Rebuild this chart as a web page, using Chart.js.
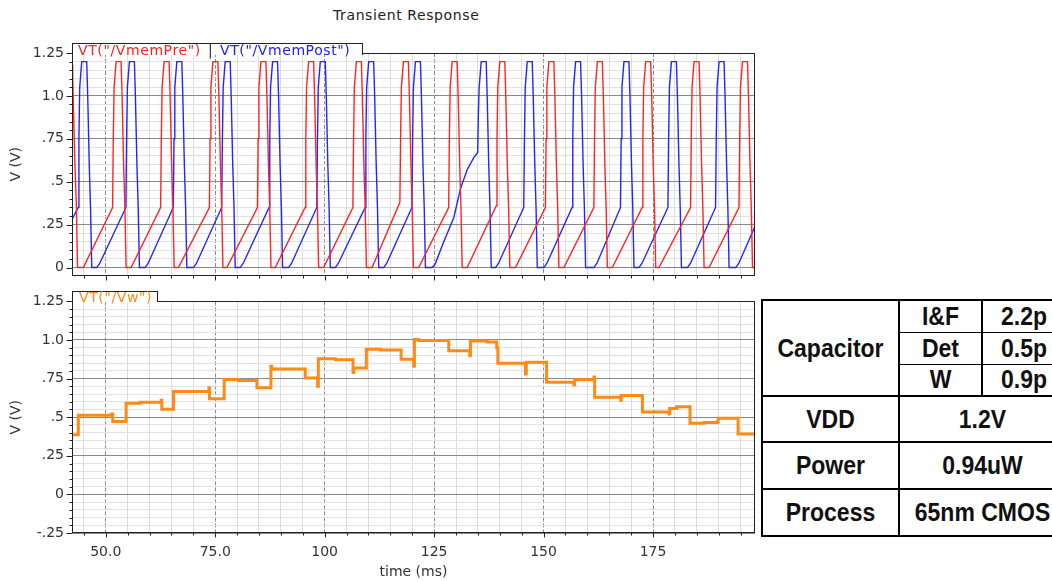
<!DOCTYPE html>
<html><head><meta charset="utf-8">
<script src="https://cdn.jsdelivr.net/npm/chart.js@4.4.1/dist/chart.umd.min.js"></script>
<style>
html,body{margin:0;padding:0;background:#fff;}
body{width:1052px;height:581px;position:relative;overflow:hidden;font-family:"DejaVu Sans",sans-serif;}
canvas{position:absolute;left:0;z-index:0;}
#c1{top:30px;} #c2{top:285px;}
.lbl{position:absolute;white-space:nowrap;font-size:14px;line-height:14px;letter-spacing:0.6px;z-index:3;}
.tab{position:absolute;background:#fff;border:1px solid #222;border-bottom:none;box-sizing:border-box;z-index:2;}
#tab1{left:72px;top:43px;width:291px;height:12px;}
#tab2{left:72px;top:291px;width:86px;height:11px;}
#tbl{position:absolute;left:761px;top:299px;width:304px;table-layout:fixed;border-collapse:collapse;font-family:"Liberation Sans",Arial,sans-serif;font-weight:bold;font-size:23px;color:#111;z-index:3;}
#tbl td{border:2px solid #000;text-align:center;vertical-align:middle;padding:0;white-space:nowrap;overflow:visible;}
#tbl td span{display:inline-block;transform:scaleY(1.1);}
</style>
</head><body>
<div class="lbl" id="title" style="left:333px;top:8px;color:#222;">Transient Response</div>
<div class="tab" id="tab1"></div>
<div class="lbl" style="left:78px;top:43px;color:#ff2020;">VT("/VmemPre")</div>
<div class="lbl" style="left:208px;top:43px;color:#333;">|</div>
<div class="lbl" style="left:220px;top:43px;color:#2020ff;">VT("/VmemPost")</div>
<div class="tab" id="tab2"></div>
<div class="lbl" style="left:79px;top:290px;color:#ff8a14;">VT("/Vw")</div>
<canvas id="c1" width="760" height="262"></canvas>
<canvas id="c2" width="760" height="296"></canvas>
<table id="tbl"><colgroup><col style="width:137px"><col style="width:83px"><col style="width:84px"></colgroup><tbody id="tbody"></tbody></table>
<script>
// ---------------- data (time in ms, voltage in V) ----------------
const xMin = 42.29, xMax = 198.29;

const vmemPre = [
[42.29,1.18],[42.45,1.12],[42.6,0.95],[42.9,0.65],[43.3,0.35],[43.55,0],
[44.88,0],[51.56,0.35],[51.72,0.75],[51.90,1.05],[52.36,1.2],[53.50,1.2],[53.73,1.0],[54.08,0.6],[54.37,0.35],[54.65,0],
[55.79,0],[62.53,0.35],[62.69,0.75],[62.87,1.05],[63.33,1.2],[64.47,1.2],[64.70,1.0],[65.05,0.6],[65.34,0.35],[65.62,0],
[66.60,0],[73.67,0.35],[73.83,0.75],[74.01,1.05],[74.47,1.2],[75.61,1.2],[75.84,1.0],[76.19,0.6],[76.48,0.35],[76.76,0],
[77.67,0],[84.64,0.35],[84.80,0.75],[84.98,1.05],[85.44,1.2],[86.58,1.2],[86.81,1.0],[87.16,0.6],[87.45,0.35],[87.73,0],
[88.71,0],[95.53,0.35],[95.69,0.75],[95.87,1.05],[96.33,1.2],[97.47,1.2],[97.70,1.0],[98.05,0.6],[98.34,0.35],[98.62,0],
[99.76,0],[106.44,0.35],[106.60,0.75],[106.78,1.05],[107.24,1.2],[108.38,1.2],[108.61,1.0],[108.96,0.6],[109.25,0.35],[109.53,0],
[110.83,0],[117.18,0.38],[117.34,0.75],[117.52,1.05],[117.98,1.2],[119.12,1.2],[119.35,1.0],[119.70,0.6],[119.99,0.35],[120.27,0],
[121.48,0],[128.32,0.35],[128.48,0.75],[128.66,1.05],[129.12,1.2],[130.26,1.2],[130.49,1.0],[130.84,0.6],[131.13,0.35],[131.41,0],
[132.55,0],[139.20,0.36],[139.36,0.75],[139.54,1.05],[140.00,1.2],[141.14,1.2],[141.37,1.0],[141.72,0.6],[142.01,0.35],[142.29,0],
[143.59,0],[150.41,0.35],[150.57,0.75],[150.75,1.05],[151.21,1.2],[152.35,1.2],[152.58,1.0],[152.93,0.6],[153.22,0.35],[153.50,0],
[154.64,0],[161.48,0.35],[161.64,0.75],[161.82,1.05],[162.28,1.2],[163.42,1.2],[163.65,1.0],[164.00,0.6],[164.29,0.35],[164.57,0],
[165.71,0],[172.52,0.35],[172.68,0.75],[172.86,1.05],[173.32,1.2],[174.46,1.2],[174.69,1.0],[175.04,0.6],[175.33,0.35],[175.61,0],
[176.36,0],[183.57,0.35],[183.73,0.75],[183.91,1.05],[184.37,1.2],[185.51,1.2],[185.74,1.0],[186.09,0.6],[186.38,0.35],[186.66,0],
[187.80,0],[194.63,0.35],[194.79,0.75],[194.97,1.05],[195.43,1.2],[196.57,1.2],[196.80,1.0],[197.15,0.6],[197.44,0.35],[197.72,0],
[198.29,0]
];

const vmemPost = [
[42.29,0.28],
[43.71,0.35],[43.87,0.75],[44.05,1.05],[44.51,1.2],[45.65,1.2],[45.88,1.0],[46.23,0.6],[46.52,0.35],[46.80,0],
[47.94,0],[48.64,0.025],
[54.60,0.35],[54.76,0.75],[54.94,1.05],[55.40,1.2],[56.54,1.2],[56.77,1.0],[57.12,0.6],[57.41,0.35],[57.69,0],
[58.99,0],[59.69,0.025],
[65.43,0.35],[65.59,0.75],[65.77,1.05],[66.23,1.2],[67.37,1.2],[67.60,1.0],[67.95,0.6],[68.24,0.35],[68.52,0],
[70.03,0],[70.73,0.025],
[76.48,0.35],[76.64,0.75],[76.82,1.05],[77.28,1.2],[78.42,1.2],[78.65,1.0],[79.00,0.6],[79.29,0.35],[79.57,0],
[80.71,0],[81.41,0.025],
[87.30,0.35],[87.46,0.75],[87.64,1.05],[88.10,1.2],[89.24,1.2],[89.47,1.0],[89.82,0.6],[90.11,0.35],[90.39,0],
[91.75,0],[92.45,0.025],
[98.20,0.35],[98.36,0.75],[98.54,1.05],[99.00,1.2],[100.14,1.2],[100.37,1.0],[100.72,0.6],[101.01,0.35],[101.29,0],
[102.43,0],[103.13,0.025],
[109.25,0.35],[109.41,0.75],[109.59,1.05],[110.05,1.2],[111.19,1.2],[111.42,1.0],[111.77,0.6],[112.06,0.35],[112.34,0],
[113.48,0],[114.18,0.025],
[119.93,0.35],[120.09,0.75],[120.27,1.05],[120.73,1.2],[121.87,1.2],[122.10,1.0],[122.45,0.6],[122.74,0.35],[123.02,0],
[124.55,0],[125.23,0.02],[127.20,0.15],[129.49,0.29],[131.02,0.46],[132.55,0.57],[134.06,0.64],
[134.95,0.67],[135.11,0.9],[135.29,1.05],[135.75,1.2],[136.89,1.2],[137.12,1.0],[137.47,0.6],[137.76,0.35],[138.04,0],
[139.02,0],[139.72,0.025],
[145.47,0.35],[145.63,0.75],[145.81,1.05],[146.27,1.2],[147.41,1.2],[147.64,1.0],[147.99,0.6],[148.28,0.35],[148.56,0],
[150.07,0],[150.77,0.025],
[156.51,0.35],[156.67,0.75],[156.85,1.05],[157.31,1.2],[158.45,1.2],[158.68,1.0],[159.03,0.6],[159.32,0.35],[159.60,0],
[161.50,0],[162.20,0.025],
[167.56,0.35],[167.72,0.75],[167.90,1.05],[168.36,1.2],[169.50,1.2],[169.73,1.0],[170.08,0.6],[170.37,0.35],[170.65,0],
[171.79,0],[172.49,0.025],
[178.40,0.35],[178.56,0.75],[178.74,1.05],[179.20,1.2],[180.34,1.2],[180.57,1.0],[180.92,0.6],[181.21,0.35],[181.49,0],
[182.86,0],[183.56,0.025],
[189.28,0.35],[189.44,0.75],[189.62,1.05],[190.08,1.2],[191.22,1.2],[191.45,1.0],[191.80,0.6],[192.09,0.35],[192.37,0],
[193.90,0],[194.60,0.025],[198.29,0.24]
];

// Vw: each point = value taken from that time on (step)
const vw = [
[42.29,0.386],[43.73,0.513],[51.37,0.52],[51.60,0.472],[54.64,0.59],[57.84,0.597],[62.65,0.61],[62.80,0.551],
[65.46,0.667],[73.55,0.69],[73.70,0.62],[77.05,0.744],[80.32,0.737],[84.53,0.69],[87.73,0.83],[87.90,0.812],
[95.57,0.754],[98.39,0.70],[98.55,0.878],[102.43,0.872],[106.48,0.79],[106.65,0.818],[109.52,0.94],[112.72,0.935],
[117.46,0.876],[120.34,0.83],[120.50,1.004],[121.48,0.997],[128.34,0.931],[133.14,0.90],[133.30,0.994],[137.12,0.987],
[139.30,0.95],[139.55,0.85],[145.88,0.78],[146.05,0.856],[150.68,0.726],[156.93,0.71],[157.10,0.742],[161.50,0.76],
[161.65,0.63],[167.60,0.61],[167.75,0.64],[172.57,0.534],[178.65,0.52],[178.80,0.557],[180.41,0.567],[183.45,0.461],
[186.65,0.466],[189.72,0.47],[189.88,0.494],[194.43,0.391],[198.29,0.391]
];

// tick labels
const xLabelValues = [50, 75, 100, 125, 150, 175];
const xLabelTexts  = ['50.0', '75.0', '100', '125', '150', '175'];
const yLabelValues = [-0.25, 0, 0.25, 0.5, 0.75, 1.0, 1.25];
const yLabelTexts  = ['-.25', '0', '.25', '.5', '.75', '1.0', '1.25'];

// table
const capNames  = ['I&F', 'Det', 'W'];
const capValues = ['2.2p', '0.5p', '0.9p'];
const specNames  = ['VDD', 'Power', 'Process'];
const specValues = ['1.2V', '0.94uW', '65nm CMOS'];

// ---------------- helpers ----------------
const key = v => Math.round(v * 100);
const xLabelMap = {}; xLabelValues.forEach((v, i) => xLabelMap[key(v)] = xLabelTexts[i]);
const yLabelMap = {}; yLabelValues.forEach((v, i) => yLabelMap[key(v)] = yLabelTexts[i]);
const isMajorY = v => key(v) % 25 === 0;
const isMajorX = v => key(v) % 2500 === 0;

function gridTicks(min, max, step) {
  const out = [];
  for (let k = Math.ceil(min / step - 1e-9); k * step <= max + 1e-9; k++) out.push({value: +(k * step).toFixed(4)});
  return out;
}

const framePlugin = {
  id: 'frame',
  afterDraw(chart) {
    const {ctx, chartArea: a, scales: {x, y}} = chart;
    ctx.save();
    ctx.strokeStyle = '#222';
    ctx.lineWidth = 1;
    const L = Math.round(a.left) + 0.5, R = Math.round(a.right) - 0.5;
    const T = Math.round(a.top) + 0.5, B = Math.round(a.bottom) - 0.5;
    ctx.strokeRect(L, T, R - L, B - T);
    ctx.beginPath();
    y.ticks.forEach(t => {
      const py = Math.round(y.getPixelForValue(t.value)) + 0.5;
      ctx.moveTo(L - (isMajorY(t.value) ? 6 : 3), py); ctx.lineTo(L, py);
    });
    x.ticks.forEach(t => {
      const px = Math.round(x.getPixelForValue(t.value)) + 0.5;
      ctx.moveTo(px, B); ctx.lineTo(px, B + (isMajorX(t.value) ? 5 : 3));
    });
    ctx.stroke();
    ctx.restore();
  }
};

const tickFont = {family: '"DejaVu Sans", sans-serif', size: 14};

function makeScales(yMin, yMax, showX) {
  return {
    x: {
      type: 'linear', min: xMin, max: xMax,
      afterBuildTicks: s => { s.ticks = gridTicks(45, 195, 5); },
      afterFit: s => { s.height = showX ? 48 : 6; },
      ticks: {display: showX, autoSkip: false, maxRotation: 0, padding: 11, color: '#333', font: tickFont,
              callback: v => xLabelMap[key(v)] || ''},
      grid: {drawTicks: false, lineWidth: 1,
             color: c => isMajorX(c.tick.value) ? '#8c8c8c' : '#dedede'},
      border: {display: false, dash: c => (c.tick && isMajorX(c.tick.value)) ? [4, 2] : []},
      title: {display: showX, text: 'time (ms)', color: '#333', font: tickFont, padding: {top: 0, bottom: 0}}
    },
    y: {
      type: 'linear', min: yMin, max: yMax,
      afterBuildTicks: s => { s.ticks = gridTicks(yMin, yMax, 0.05); },
      afterFit: s => { s.width = 72; },
      ticks: {autoSkip: false, padding: 8, color: '#333', font: tickFont,
              callback: v => yLabelMap[key(v)] || ''},
      grid: {drawTicks: false, lineWidth: 1,
             color: c => isMajorY(c.tick.value) ? '#8a8a8a' : '#e2e2e2'},
      border: {display: false},
      title: {display: true, text: 'V (V)', color: '#333', font: {family: '"DejaVu Sans", sans-serif', size: 14}, padding: {top: 8, bottom: 0}}
    }
  };
}

const pts = arr => arr.map(p => ({x: p[0], y: p[1]}));
const common = {responsive: false, animation: false, devicePixelRatio: 1, events: [],
  plugins: {legend: {display: false}, tooltip: {enabled: false}}};

new Chart(document.getElementById('c1'), {
  type: 'line',
  data: {datasets: [
    {data: pts(vmemPre), borderColor: '#ff2424', borderWidth: 1.4, pointRadius: 0, tension: 0, fill: false},
    {data: pts(vmemPost), borderColor: '#2424ff', borderWidth: 1.4, pointRadius: 0, tension: 0, fill: false}
  ]},
  options: Object.assign({}, common, {
    layout: {padding: {top: 23, right: 5, left: 0, bottom: 0}},
    scales: makeScales(-0.047, 1.25, false)
  }),
  plugins: [framePlugin]
});

new Chart(document.getElementById('c2'), {
  type: 'line',
  data: {datasets: [
    {data: pts(vw), borderColor: '#ff8a14', borderWidth: 3, pointRadius: 0, stepped: true, fill: false}
  ]},
  options: Object.assign({}, common, {
    layout: {padding: {top: 16, right: 5, left: 0, bottom: 0}},
    scales: makeScales(-0.25, 1.25, true)
  }),
  plugins: [framePlugin]
});

// ---------------- table ----------------
const esc = s => s.replace(/&/g, '&amp;');
let html = '';
capNames.forEach((n, i) => {
  const bw = i === 0 ? '2px 2px 1.5px 2px' : (i === 2 ? '1.5px 2px 2px 2px' : '1.5px 2px');
  html += '<tr style="height:32px">' +
    (i === 0 ? '<td rowspan="3"><span>Capacitor</span></td>' : '') +
    '<td style="border-width:' + bw + '"><span>' + esc(n) + '</span></td>' +
    '<td style="border-width:' + bw + '"><span>' + esc(capValues[i]) + '</span></td></tr>';
});
specNames.forEach((n, i) => {
  html += '<tr style="height:' + (i === 0 ? 46 : 47) + 'px"><td><span>' + n + '</span></td><td colspan="2"><span>' + specValues[i] + '</span></td></tr>';
});
document.getElementById('tbody').innerHTML = html;
</script>
</body></html>
